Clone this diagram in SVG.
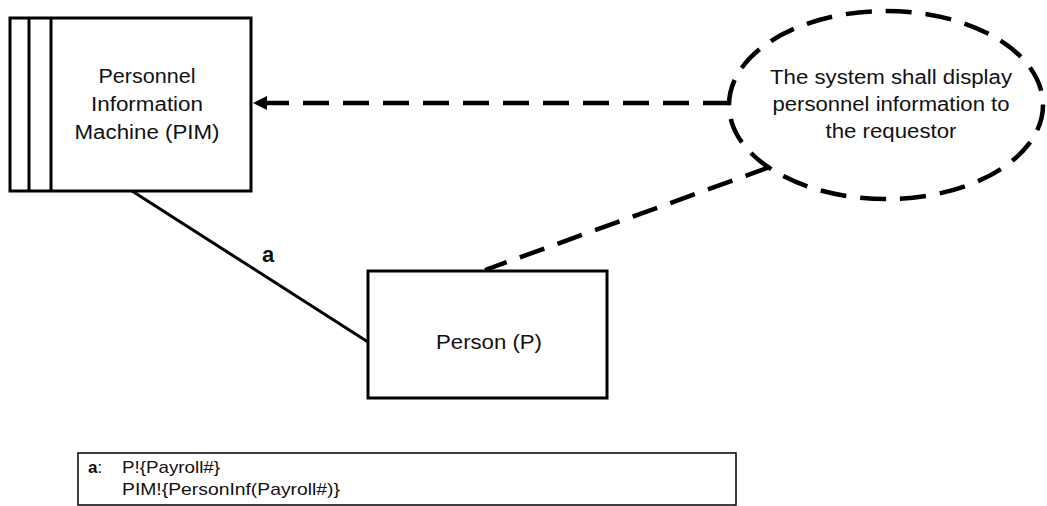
<svg xmlns="http://www.w3.org/2000/svg" width="1047" height="506" viewBox="0 0 1047 506">
  <style>
    .box { fill: #ffffff; stroke: #000000; stroke-width: 3; }
    .edge { fill: none; stroke: #000000; stroke-width: 3; }
    .dash { fill: none; stroke: #000000; stroke-width: 4.5; stroke-dasharray: 26 14; }
    .lbl { font-family: "Liberation Sans", Arial, sans-serif; font-size: 19.5px; fill: #111111; text-anchor: middle; }
    .lg { font-family: "Liberation Sans", Arial, sans-serif; font-size: 17px; fill: #111111; }
  </style>
  <defs>
    <marker id="arrowhead" viewBox="0 0 14 14" refX="13" refY="7" markerWidth="14" markerHeight="14" markerUnits="userSpaceOnUse" orient="auto">
      <path d="M0,0 L14,7 L0,14 Z" fill="#000000"/>
    </marker>
  </defs>

  <!-- machine domain: box with two stripes on the left -->
  <g id="pim">
    <rect class="box" x="10" y="18" width="241" height="173"/>
    <line class="edge" x1="29" y1="18" x2="29" y2="191"/>
    <line class="edge" x1="51" y1="18" x2="51" y2="191"/>
    <text class="lbl" x="147" y="83" textLength="97" lengthAdjust="spacingAndGlyphs">Personnel</text>
    <text class="lbl" x="147" y="111" textLength="112" lengthAdjust="spacingAndGlyphs">Information</text>
    <text class="lbl" x="147" y="139" textLength="145" lengthAdjust="spacingAndGlyphs">Machine (PIM)</text>
  </g>

  <!-- given domain -->
  <g id="person">
    <rect class="box" x="368" y="271" width="239" height="127"/>
    <text class="lbl" x="489" y="349" textLength="106" lengthAdjust="spacingAndGlyphs">Person (P)</text>
  </g>

  <!-- requirement: dashed ellipse -->
  <g id="requirement">
    <ellipse class="dash" cx="886" cy="105" rx="157" ry="94" fill="#ffffff"/>
    <text class="lbl" x="891" y="84" textLength="242" lengthAdjust="spacingAndGlyphs">The system shall display</text>
    <text class="lbl" x="891" y="111" textLength="237" lengthAdjust="spacingAndGlyphs">personnel information to</text>
    <text class="lbl" x="891" y="138" textLength="131" lengthAdjust="spacingAndGlyphs">the requestor</text>
  </g>

  <!-- connectors -->
  <g id="connectors">
    <line class="edge" x1="132" y1="191" x2="368" y2="342"/>
    <text x="262" y="262" font-family="Liberation Sans, Arial, sans-serif" font-size="22" font-weight="bold" fill="#111111">a</text>
    <line class="dash" x1="729" y1="103" x2="254" y2="103" marker-end="url(#arrowhead)"/>
    <line class="dash" x1="770" y1="167" x2="485" y2="270"/>
  </g>

  <!-- interface legend -->
  <g id="legend">
    <rect x="78" y="453" width="658" height="52" fill="#ffffff" stroke="#000000" stroke-width="1.5"/>
    <text class="lg" x="88" y="473"><tspan font-weight="bold">a</tspan>:</text>
    <text class="lg" x="122" y="473" textLength="98" lengthAdjust="spacingAndGlyphs">P!{Payroll#}</text>
    <text class="lg" x="122" y="495" textLength="218" lengthAdjust="spacingAndGlyphs">PIM!{PersonInf(Payroll#)}</text>
  </g>
</svg>
